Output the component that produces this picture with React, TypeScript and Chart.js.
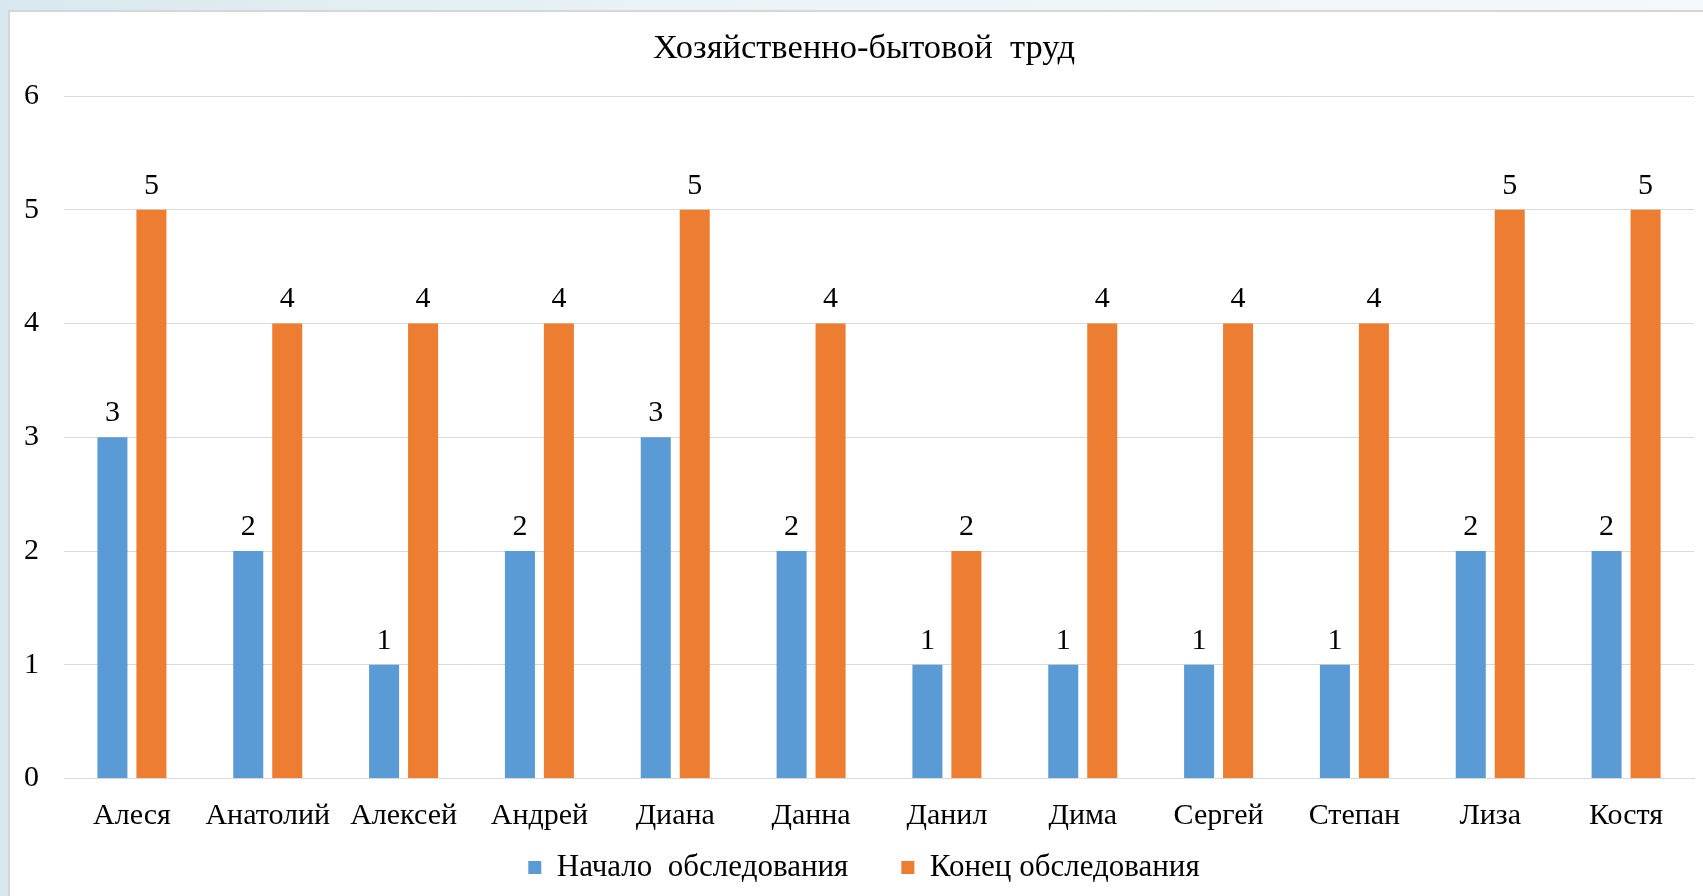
import React, { useEffect, useRef } from "react";
import { Chart, registerables } from "chart.js";

Chart.register(...registerables);

const categories = ["Алеся", "Анатолий", "Алексей", "Андрей", "Диана", "Данна", "Данил", "Дима", "Сергей", "Степан", "Лиза", "Костя"];
const startValues = [3, 2, 1, 2, 3, 2, 1, 1, 1, 1, 2, 2];
const endValues = [5, 4, 4, 4, 5, 4, 2, 4, 4, 4, 5, 5];
const seriesNames = ["Начало  обследования", "Конец обследования"];
const chartTitle = "Хозяйственно-бытовой  труд";
const yTicks = [0, 1, 2, 3, 4, 5, 6];

const FONT = "'Liberation Serif', 'Times New Roman', serif";

const valueLabels = {
  id: "valueLabels",
  afterDatasetsDraw(chart: any) {
    const ctx = chart.ctx;
    ctx.save();
    ctx.font = `30px ${FONT}`;
    ctx.fillStyle = "#000";
    ctx.textAlign = "center";
    ctx.textBaseline = "middle";
    chart.data.datasets.forEach((ds: any, i: number) => {
      const meta = chart.getDatasetMeta(i);
      meta.data.forEach((bar: any, j: number) => {
        ctx.fillText(String(ds.data[j]), bar.x, bar.y - 24);
      });
    });
    ctx.restore();
  },
};

// let tick labels extend beyond their (narrow) layout boxes without being clipped
const unclipLabels = {
  id: "unclipLabels",
  afterLayout(chart: any) {
    chart.scales.y.left = 0;
    chart.scales.x.bottom = chart.scales.x.top + 80;
  },
};

export default function App() {
  const ref = useRef<HTMLCanvasElement>(null);
  useEffect(() => {
    document.body.style.margin = "0";
    const chart = new Chart(ref.current!, {
      type: "bar",
      data: {
        labels: categories,
        datasets: [
          { label: seriesNames[0], data: startValues, backgroundColor: "#5B9BD5", categoryPercentage: 0.574, barPercentage: 0.77 },
          { label: seriesNames[1], data: endValues, backgroundColor: "#ED7D31", categoryPercentage: 0.574, barPercentage: 0.77 },
        ],
      },
      options: {
        animation: false,
        responsive: false,
        layout: { padding: { left: 24, right: 9, top: 0, bottom: 0 } },
        plugins: {
          title: {
            display: true,
            text: chartTitle,
            color: "#000",
            font: { family: FONT, size: 34.5, weight: "normal", lineHeight: 1.2 },
            padding: { top: 16.3, bottom: 26.3 },
          },
          legend: {
            position: "bottom",
            labels: {
              color: "#000",
              font: { family: FONT, size: 31 },
              boxWidth: 13,
              boxHeight: 13,
              padding: 53,
            },
          },
          tooltip: { enabled: false },
        },
        scales: {
          x: {
            grid: { display: false, drawTicks: false },
            border: { color: "#d9d9d9" },
            ticks: {
              color: "#000",
              font: { family: FONT, size: 30, lineHeight: 1.2 },
              padding: 20,
              maxRotation: 0,
              autoSkip: false,
            },
            afterFit: (s: any) => { s.height = 20.5; },
          },
          y: {
            min: 0,
            max: 6,
            afterBuildTicks: (s: any) => { s.ticks = yTicks.map((v) => ({ value: v })); },
            grid: { color: "#d9d9d9", drawTicks: false },
            border: { display: false },
            ticks: {
              color: "#000",
              font: { family: FONT, size: 30 },
              padding: 25,
            },
            afterFit: (s: any) => { s.width = 30; },
          },
        },
      },
      plugins: [valueLabels, unclipLabels],
    });
    return () => chart.destroy();
  }, []);

  return (
    <div style={{ position: "relative", width: 1703, height: 896, overflow: "hidden", background: "linear-gradient(90deg, #d8e8ee 0%, #eaf3f6 40%, #f4f9fb 100%)" }}>
      <div style={{ position: "absolute", left: 8, top: 10, right: 0, bottom: 0, background: "#fff", borderLeft: "2px solid #d6d6d6", borderTop: "2px solid #d6d6d6", overflow: "hidden" }}>
        <canvas ref={ref} width={1693} height={881} style={{ display: "block" }} />
      </div>
    </div>
  );
}
